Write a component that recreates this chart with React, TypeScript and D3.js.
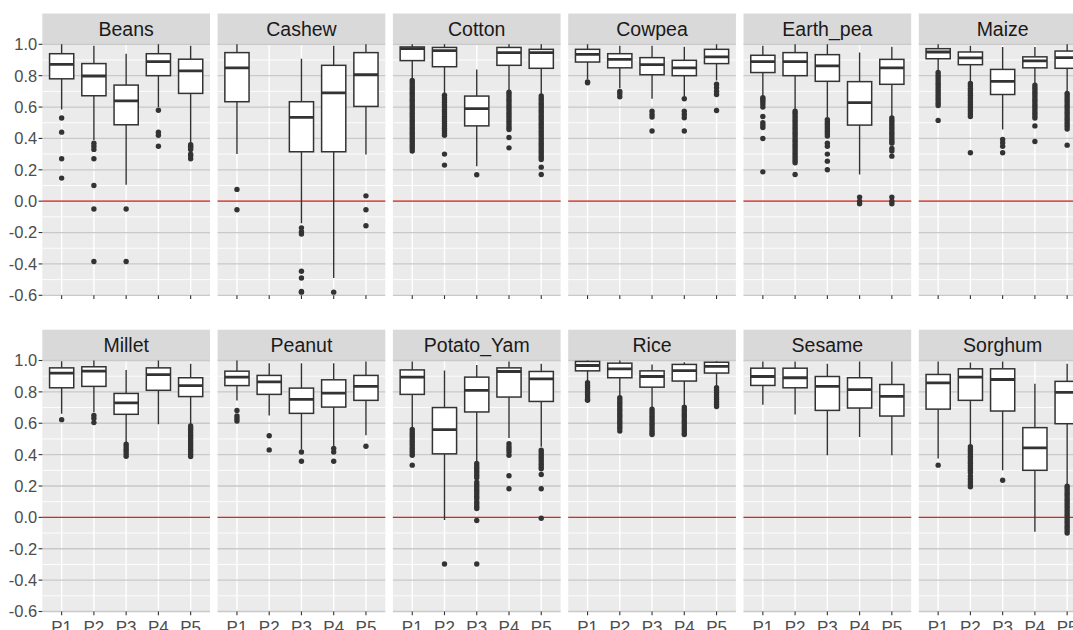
import React from "react";
import * as d3 from "d3";

const crops = ["Beans", "Cashew", "Cotton", "Cowpea", "Earth_pea", "Maize", "Millet", "Peanut", "Potato_Yam", "Rice", "Sesame", "Sorghum"];
const periods = ["P1", "P2", "P3", "P4", "P5"];
const yMajor = [-0.6, -0.4, -0.2, 0.0, 0.2, 0.4, 0.6, 0.8, 1.0];
const yMinor = [-0.5, -0.3, -0.1, 0.1, 0.3, 0.5, 0.7, 0.9];

type N = number | null;

const whiskerHigh: N[][] = [
  [1.0, 0.99, 0.94, 1.0, 0.99],
  [1.0, null, 0.908, 0.99, 1.0],
  [1.0, 1.0, 0.84, 1.0, 1.0],
  [1.0, 0.99, 0.99, 0.985, 1.0],
  [0.99, 1.0, 1.0, 0.947, 0.985],
  [1.0, 0.99, 0.983, 0.983, 1.0],
  [0.996, 1.0, 0.94, 1.0, 0.98],
  [1.0, 0.983, 0.983, 0.983, 0.994],
  [0.994, 0.936, 0.972, 0.994, 0.98],
  [1.0, 1.0, 0.975, 0.989, 0.996],
  [0.994, 0.994, 0.979, 0.994, 0.994],
  [0.994, 0.987, 0.994, 0.852, 0.979],
];
const q3: N[][] = [
  [0.94, 0.877, 0.74, 0.94, 0.905],
  [0.947, null, 0.634, 0.866, 0.947],
  [0.983, 0.98, 0.67, 0.98, 0.968],
  [0.968, 0.94, 0.915, 0.898, 0.968],
  [0.93, 0.947, 0.934, 0.762, 0.904],
  [0.972, 0.951, 0.84, 0.92, 0.957],
  [0.953, 0.96, 0.79, 0.953, 0.89],
  [0.932, 0.905, 0.824, 0.877, 0.905],
  [0.94, 0.70, 0.894, 0.953, 0.93],
  [0.994, 0.983, 0.934, 0.975, 0.989],
  [0.951, 0.951, 0.898, 0.89, 0.847],
  [0.911, 0.947, 0.947, 0.572, 0.867],
];
const medians: N[][] = [
  [0.872, 0.798, 0.64, 0.89, 0.83],
  [0.85, null, 0.534, 0.69, 0.806],
  [0.972, 0.96, 0.59, 0.947, 0.947],
  [0.936, 0.904, 0.87, 0.85, 0.92],
  [0.89, 0.89, 0.862, 0.628, 0.85],
  [0.951, 0.913, 0.764, 0.894, 0.915],
  [0.92, 0.932, 0.73, 0.91, 0.84],
  [0.894, 0.864, 0.752, 0.792, 0.835],
  [0.894, 0.56, 0.81, 0.93, 0.883],
  [0.968, 0.947, 0.898, 0.936, 0.962],
  [0.898, 0.89, 0.835, 0.814, 0.771],
  [0.858, 0.894, 0.879, 0.443, 0.797],
];
const q1: N[][] = [
  [0.78, 0.672, 0.487, 0.80, 0.687],
  [0.634, null, 0.315, 0.315, 0.604],
  [0.896, 0.857, 0.48, 0.866, 0.847],
  [0.887, 0.85, 0.806, 0.80, 0.877],
  [0.82, 0.80, 0.764, 0.485, 0.745],
  [0.908, 0.87, 0.68, 0.85, 0.847],
  [0.826, 0.835, 0.657, 0.81, 0.77],
  [0.84, 0.784, 0.663, 0.703, 0.746],
  [0.784, 0.405, 0.672, 0.767, 0.739],
  [0.934, 0.89, 0.83, 0.869, 0.92],
  [0.841, 0.826, 0.682, 0.697, 0.646],
  [0.69, 0.746, 0.678, 0.30, 0.597],
];
const whiskerLow: N[][] = [
  [0.585, 0.39, 0.104, 0.60, 0.37],
  [0.30, null, -0.14, -0.49, 0.298],
  [0.78, 0.68, 0.223, 0.70, 0.676],
  [0.777, 0.72, 0.653, 0.67, 0.77],
  [0.67, 0.585, 0.53, 0.17, 0.54],
  [0.83, 0.755, 0.457, 0.745, 0.69],
  [0.66, 0.67, 0.47, 0.593, 0.593],
  [0.745, 0.65, 0.434, 0.45, 0.523],
  [0.566, -0.017, 0.354, 0.506, 0.45],
  [0.862, 0.767, 0.693, 0.708, 0.835],
  [0.718, 0.655, 0.396, 0.513, 0.396],
  [0.375, 0.45, 0.30, -0.091, 0.205],
];
const outliers: number[][][] = [
  [
    [0.53, 0.44, 0.27, 0.147],
    [0.37, 0.35, 0.33, 0.27, 0.10, -0.05, -0.385],
    [-0.05, -0.385],
    [0.58, 0.44, 0.42, 0.35],
    [0.36, 0.35, 0.34, 0.33, 0.30, 0.29, 0.27],
  ],
  [
    [0.075, -0.055],
    [],
    [-0.17, -0.195, -0.21, -0.447, -0.49, -0.575, -0.58],
    [-0.58],
    [0.034, -0.055, -0.157],
  ],
  [
    [0.77, 0.755, 0.74, 0.725, 0.71, 0.695, 0.68, 0.665, 0.65, 0.635, 0.62, 0.605, 0.59, 0.575, 0.56, 0.545, 0.53, 0.515, 0.50, 0.485, 0.47, 0.455, 0.44, 0.425, 0.41, 0.395, 0.38, 0.365, 0.35, 0.335, 0.32],
    [0.675, 0.66, 0.645, 0.63, 0.615, 0.60, 0.585, 0.57, 0.555, 0.54, 0.525, 0.51, 0.495, 0.48, 0.465, 0.45, 0.435, 0.42, 0.30, 0.23],
    [0.168],
    [0.695, 0.68, 0.665, 0.65, 0.635, 0.62, 0.605, 0.59, 0.575, 0.56, 0.545, 0.53, 0.515, 0.50, 0.485, 0.47, 0.457, 0.406, 0.34],
    [0.67, 0.655, 0.64, 0.625, 0.61, 0.595, 0.58, 0.565, 0.55, 0.535, 0.52, 0.505, 0.49, 0.475, 0.46, 0.445, 0.43, 0.415, 0.40, 0.385, 0.37, 0.355, 0.34, 0.325, 0.31, 0.295, 0.28, 0.266, 0.217, 0.17],
  ],
  [
    [0.76, 0.755],
    [0.70, 0.685, 0.666],
    [0.574, 0.553, 0.536, 0.447],
    [0.653, 0.574, 0.553, 0.532, 0.447],
    [0.745, 0.723, 0.70, 0.68, 0.578],
  ],
  [
    [0.66, 0.65, 0.635, 0.62, 0.60, 0.54, 0.50, 0.485, 0.47, 0.40, 0.187],
    [0.574, 0.56, 0.545, 0.53, 0.515, 0.50, 0.485, 0.47, 0.455, 0.44, 0.425, 0.41, 0.395, 0.38, 0.365, 0.35, 0.335, 0.32, 0.305, 0.29, 0.275, 0.26, 0.245, 0.17],
    [0.52, 0.505, 0.49, 0.475, 0.46, 0.445, 0.43, 0.415, 0.37, 0.35, 0.30, 0.255, 0.20],
    [0.026, 0.0, -0.017],
    [0.53, 0.515, 0.50, 0.485, 0.47, 0.455, 0.44, 0.425, 0.41, 0.395, 0.38, 0.37, 0.336, 0.32, 0.287, 0.026, 0.0, -0.017],
  ],
  [
    [0.82, 0.805, 0.79, 0.775, 0.76, 0.745, 0.73, 0.715, 0.70, 0.685, 0.67, 0.655, 0.64, 0.625, 0.61, 0.515],
    [0.75, 0.735, 0.72, 0.705, 0.69, 0.675, 0.66, 0.645, 0.63, 0.615, 0.60, 0.585, 0.57, 0.555, 0.54, 0.309],
    [0.394, 0.372, 0.35, 0.309],
    [0.74, 0.725, 0.71, 0.695, 0.68, 0.665, 0.65, 0.635, 0.62, 0.605, 0.59, 0.575, 0.56, 0.545, 0.53, 0.48, 0.38],
    [0.687, 0.672, 0.657, 0.642, 0.627, 0.612, 0.597, 0.582, 0.567, 0.552, 0.537, 0.522, 0.507, 0.492, 0.477, 0.46, 0.357],
  ],
  [
    [0.623],
    [0.65, 0.63, 0.604],
    [0.466, 0.45, 0.435, 0.42, 0.405, 0.39],
    [],
    [0.583, 0.568, 0.553, 0.538, 0.523, 0.508, 0.493, 0.478, 0.463, 0.448, 0.433, 0.418, 0.403, 0.388],
  ],
  [
    [0.682, 0.646, 0.63, 0.614],
    [0.52, 0.43],
    [0.417, 0.358],
    [0.44, 0.417, 0.358],
    [0.453],
  ],
  [
    [0.56, 0.545, 0.53, 0.515, 0.50, 0.485, 0.47, 0.455, 0.44, 0.425, 0.41, 0.396, 0.333],
    [-0.297],
    [0.343, 0.328, 0.313, 0.298, 0.283, 0.268, 0.253, 0.225, 0.21, 0.195, 0.18, 0.165, 0.15, 0.135, 0.12, 0.10, 0.085, 0.07, 0.057, -0.02, -0.297],
    [0.47, 0.45, 0.435, 0.417, 0.396, 0.265, 0.182],
    [0.428, 0.413, 0.398, 0.383, 0.368, 0.353, 0.338, 0.323, 0.31, 0.273, 0.182, -0.006],
  ],
  [
    [0.858, 0.843, 0.828, 0.813, 0.798, 0.783, 0.768, 0.753, 0.746],
    [0.763, 0.748, 0.733, 0.718, 0.703, 0.688, 0.673, 0.658, 0.643, 0.628, 0.613, 0.598, 0.583, 0.568, 0.55],
    [0.689, 0.674, 0.659, 0.644, 0.629, 0.614, 0.599, 0.584, 0.569, 0.554, 0.54, 0.528],
    [0.703, 0.688, 0.673, 0.658, 0.643, 0.628, 0.613, 0.598, 0.583, 0.568, 0.553, 0.538, 0.528],
    [0.826, 0.811, 0.796, 0.781, 0.766, 0.751, 0.736, 0.721, 0.706],
  ],
  [[], [], [], [], []],
  [
    [0.333],
    [0.45, 0.435, 0.42, 0.405, 0.39, 0.375, 0.36, 0.345, 0.33, 0.315, 0.30, 0.285, 0.263, 0.245, 0.227, 0.21, 0.195],
    [0.237],
    [],
    [0.199, 0.184, 0.169, 0.154, 0.139, 0.124, 0.109, 0.094, 0.079, 0.064, 0.049, 0.034, 0.019, 0.004, -0.011, -0.026, -0.041, -0.056, -0.071, -0.086, -0.10],
  ],
];

const W = 1073;
const H = 630;
const FONT = "'Liberation Sans', Arial, sans-serif";

export default function App() {
  const nCols = 6;
  const panelW = 167.7;
  const colScale = d3.scaleLinear().domain([0, 1]).range([42.3, 42.3 + 175.3]);
  const rowTops = [44.3, 360.5];
  const panelH = 251;
  const stripH = 30.8;

  const x = d3.scaleBand<string>().domain(periods).range([0, panelW]).paddingInner(0).paddingOuter(0.1);
  const bw = x.bandwidth();
  const boxW = bw * 0.75;

  return (
    <svg width={W} height={H} style={{ position: "absolute", left: 0, top: 0, display: "block", background: "#fff" }} fontFamily={FONT}>
      <rect x={0} y={0} width={W} height={H} fill="#fff" />
      {crops.map((crop, ci) => {
        const row = Math.floor(ci / nCols);
        const col = ci % nCols;
        const left = colScale(col);
        const top = rowTops[row];
        const y = d3.scaleLinear().domain([-0.6, 1.0]).range([top + panelH, top]);
        const clipId = `clip-${ci}`;
        return (
          <g key={crop}>
            <defs>
              <clipPath id={clipId}>
                <rect x={left} y={top - 1} width={panelW} height={panelH + 2} />
              </clipPath>
            </defs>
            {/* strip */}
            <rect x={left} y={top - stripH} width={panelW} height={stripH} fill="#D9D9D9" />
            <text x={left + panelW / 2} y={top - stripH / 2 + 7} textAnchor="middle" fontSize={19.5} fill="#1A1A1A">{crop}</text>
            {/* panel */}
            <rect x={left} y={top} width={panelW} height={panelH} fill="#EBEBEB" />
            {yMinor.map((v) => (
              <line key={"mn" + v} x1={left} x2={left + panelW} y1={y(v)} y2={y(v)} stroke="#FFFFFF" strokeWidth={0.9} />
            ))}
            {periods.map((p) => (
              <line key={"vg" + p} x1={left + x(p)! + bw / 2} x2={left + x(p)! + bw / 2} y1={top} y2={top + panelH} stroke="#FFFFFF" strokeWidth={1.4} />
            ))}
            {yMajor.map((v) => (
              <line key={"mj" + v} x1={left} x2={left + panelW} y1={y(v)} y2={y(v)} stroke="#C9C9C9" strokeWidth={1.3} />
            ))}
            <line x1={left} x2={left + panelW} y1={y(0)} y2={y(0)} stroke="#E8231F" strokeWidth={1.3} />
            <g clipPath={`url(#${clipId})`}>
              {periods.map((p, pi) => {
                const med = medians[ci][pi];
                if (med === null) return null;
                const cx = left + x(p)! + bw / 2;
                const hi = whiskerHigh[ci][pi] as number;
                const lo = whiskerLow[ci][pi] as number;
                const a = q3[ci][pi] as number;
                const b = q1[ci][pi] as number;
                return (
                  <g key={p}>
                    <line x1={cx} x2={cx} y1={y(hi)} y2={y(a)} stroke="#333333" strokeWidth={1.4} />
                    <line x1={cx} x2={cx} y1={y(b)} y2={y(lo)} stroke="#333333" strokeWidth={1.4} />
                    <rect x={cx - boxW / 2} y={y(a)} width={boxW} height={y(b) - y(a)} fill="#FFFFFF" stroke="#333333" strokeWidth={1.5} />
                    <line x1={cx - boxW / 2} x2={cx + boxW / 2} y1={y(med)} y2={y(med)} stroke="#333333" strokeWidth={2.8} />
                    {outliers[ci][pi].map((o, oi) => (
                      <circle key={oi} cx={cx} cy={y(o)} r={2.7} fill="#333333" />
                    ))}
                  </g>
                );
              })}
            </g>
            {/* x ticks */}
            {periods.map((p) => (
              <line key={"xt" + p} x1={left + x(p)! + bw / 2} x2={left + x(p)! + bw / 2} y1={top + panelH} y2={top + panelH + 3.7} stroke="#333333" strokeWidth={1.1} />
            ))}
            {row === 1 &&
              periods.map((p) => (
                <text key={"xl" + p} x={left + x(p)! + bw / 2} y={top + panelH + 21} textAnchor="middle" fontSize={17} fill="#4D4D4D">{p}</text>
              ))}
            {/* y axis on first column */}
            {col === 0 &&
              yMajor.map((v) => (
                <g key={"yt" + v}>
                  <line x1={left - 3.7} x2={left} y1={y(v)} y2={y(v)} stroke="#333333" strokeWidth={1.1} />
                  <text x={left - 5} y={y(v)} dy="0.36em" textAnchor="end" fontSize={16.5} fill="#4D4D4D">{d3.format(".1f")(v).replace("−", "-")}</text>
                </g>
              ))}
          </g>
        );
      })}
    </svg>
  );
}
